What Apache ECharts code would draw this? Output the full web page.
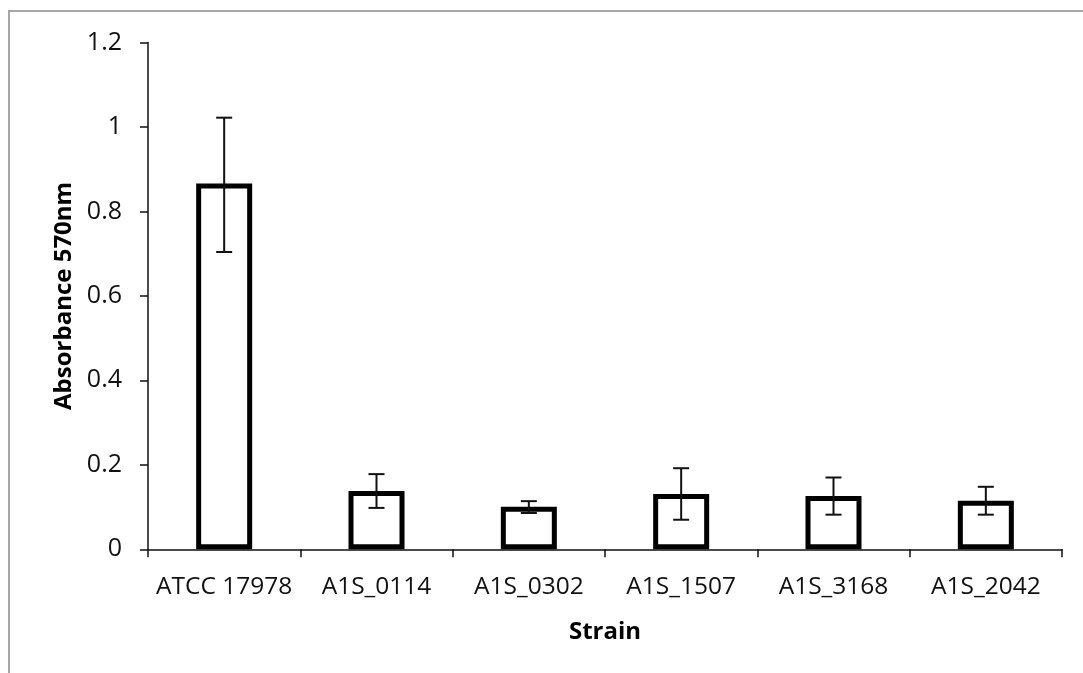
<!DOCTYPE html>
<html>
<head>
<meta charset="utf-8">
<script src="https://cdn.jsdelivr.net/npm/echarts@6/dist/echarts.min.js"></script>
<style>html,body{margin:0;padding:0;background:#fff;}#c{width:1083px;height:673px;}</style>
</head>
<body>
<div id="c"></div>
<script>
var categories = ['ATCC 17978', 'A1S_0114', 'A1S_0302', 'A1S_1507', 'A1S_3168', 'A1S_2042'];
var means = [0.866, 0.138, 0.101, 0.131, 0.126, 0.115];
var errLow = [0.704, 0.098, 0.086, 0.070, 0.082, 0.082];
var errHigh = [1.022, 0.178, 0.114, 0.192, 0.170, 0.148];
var yTicks = { min: 0, max: 1.2, interval: 0.2 };

var errData = categories.map(function (c, i) { return [i, errLow[i], errHigh[i]]; });

var chart = echarts.init(document.getElementById('c'), null, { renderer: 'canvas' });
var font = '"Open Sans", sans-serif';
chart.setOption({
  animation: false,
  backgroundColor: '#fff',
  graphic: [{
    type: 'polyline',
    shape: { points: [[9, 673], [9, 11], [1083, 11]] },
    style: { stroke: '#a6a6a6', lineWidth: 2, fill: null },
    silent: true
  }],
  grid: { left: 148, right: 21, top: 42.5, bottom: 123.7, containLabel: false },
  xAxis: {
    type: 'category',
    data: categories,
    name: 'Strain',
    nameLocation: 'middle',
    nameGap: 71,
    nameTextStyle: { fontFamily: font, fontWeight: 'bold', fontSize: 24, color: '#000' },
    axisLine: { lineStyle: { color: '#111', width: 1.5 } },
    axisTick: { show: true, length: 8, lineStyle: { color: '#111', width: 1.5 } },
    axisLabel: { fontFamily: font, fontSize: 24.5, color: '#111', margin: 25, interval: 0 },
    splitLine: { show: false }
  },
  yAxis: {
    type: 'value',
    min: yTicks.min, max: yTicks.max, interval: yTicks.interval,
    name: 'Absorbance 570nm',
    nameLocation: 'middle',
    nameGap: 72,
    nameTextStyle: { fontFamily: font, fontWeight: 'bold', fontSize: 24, color: '#000' },
    axisLine: { show: true, lineStyle: { color: '#111', width: 1.5 } },
    axisTick: { show: true, length: 8, lineStyle: { color: '#111', width: 1.5 } },
    axisLabel: { fontFamily: font, fontSize: 25, color: '#111', margin: 26 },
    splitLine: { show: false }
  },
  series: [{
    type: 'bar',
    data: means,
    barWidth: 56,
    itemStyle: { color: '#fff', borderColor: '#000', borderWidth: 5 },
    z: 2
  }, {
    type: 'custom',
    data: errData,
    encode: { x: 0, y: [1, 2] },
    z: 3,
    renderItem: function (params, api) {
      var i = api.value(0);
      var lo = api.coord([i, api.value(1)]);
      var hi = api.coord([i, api.value(2)]);
      var half = 8;
      var st = { stroke: '#111', lineWidth: 2 };
      return {
        type: 'group',
        children: [
          { type: 'line', shape: { x1: lo[0], y1: lo[1], x2: hi[0], y2: hi[1] }, style: st },
          { type: 'line', shape: { x1: hi[0] - half, y1: hi[1], x2: hi[0] + half, y2: hi[1] }, style: st },
          { type: 'line', shape: { x1: lo[0] - half, y1: lo[1], x2: lo[0] + half, y2: lo[1] }, style: st }
        ]
      };
    }
  }]
});
</script>
</body>
</html>
